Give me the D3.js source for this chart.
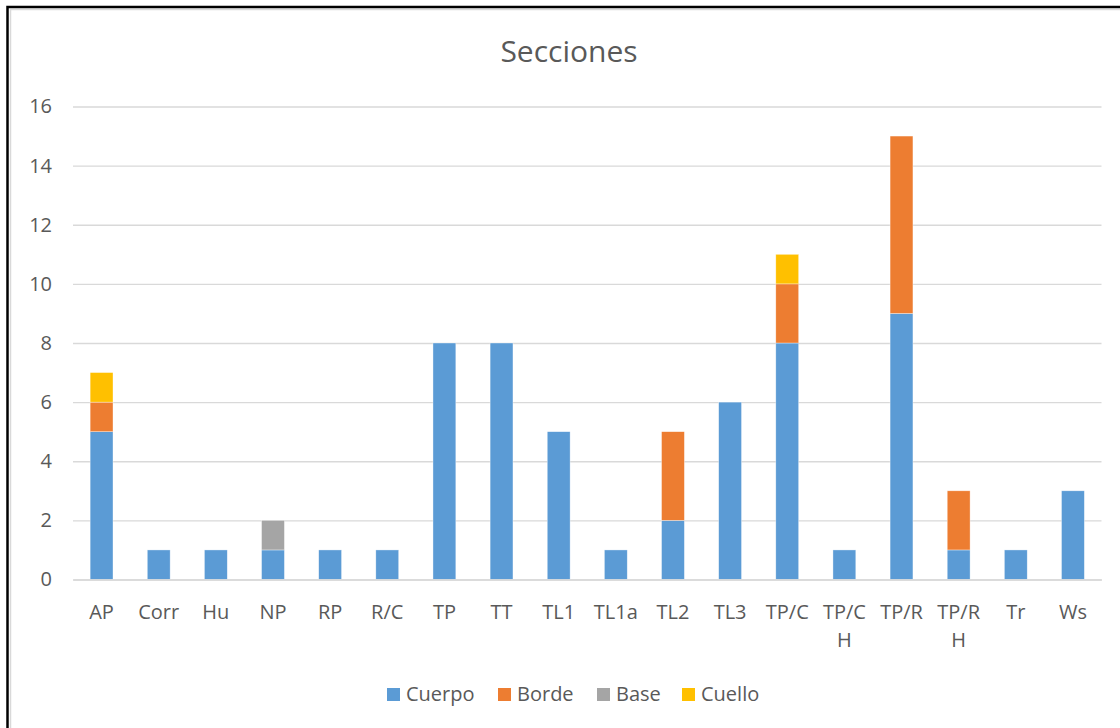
<!DOCTYPE html>
<html>
<head>
<meta charset="utf-8">
<script src="https://cdn.jsdelivr.net/npm/d3@7"></script>
<style>
  html, body { margin: 0; padding: 0; background: #fff; }
  svg { display: block; font-family: "Open Sans", "Noto Sans", sans-serif; }
</style>
</head>
<body>
<svg id="chart" width="1120" height="728"></svg>
<script>
const categories = ["AP","Corr","Hu","NP","RP","R/C","TP","TT","TL1","TL1a","TL2","TL3","TP/C","TP/C H","TP/R","TP/R H","Tr","Ws"];
const seriesNames = ["Cuerpo","Borde","Base","Cuello"];
const cuerpo = [5,1,1,1,1,1,8,8,5,1,2,6,8,1,9,1,1,3];
const borde  = [1,0,0,0,0,0,0,0,0,0,3,0,2,0,6,2,0,0];
const base   = [0,0,0,1,0,0,0,0,0,0,0,0,0,0,0,0,0,0];
const cuello = [1,0,0,0,0,0,0,0,0,0,0,0,1,0,0,0,0,0];
const yTicks = [0,2,4,6,8,10,12,14,16];
const colors = ["#5B9BD5","#ED7D31","#A5A5A5","#FFC000"];

const seriesValues = [cuerpo, borde, base, cuello];
const rows = categories.map((c, i) => {
  const r = { cat: c };
  seriesNames.forEach((s, j) => r[s] = seriesValues[j][i]);
  return r;
});

const svg = d3.select("#chart");
const textColor = "#595959";

// chart border
svg.append("rect").attr("x", 10.5).attr("y", 9.5).attr("width", 1200).attr("height", 800)
  .attr("fill", "none").attr("stroke", "#d9d9d9").attr("stroke-width", 1.5);
svg.append("rect").attr("x", 7.5).attr("y", 7).attr("width", 1200).attr("height", 800)
  .attr("fill", "none").attr("stroke", "#000").attr("stroke-width", 2.5);

const pLeft = 73, pRight = 1101.5, pTop = 106.5, pBottom = 579.5;

const x = d3.scaleBand().domain(categories).range([pLeft, pRight]).paddingInner(0.6).paddingOuter(0.3);
const y = d3.scaleLinear().domain([0, 16]).range([pBottom, pTop]);

// title
svg.append("text").attr("x", 569).attr("y", 62).attr("text-anchor", "middle")
  .attr("font-size", 30).attr("fill", textColor).text("Secciones");

// gridlines + y axis
const yAxis = d3.axisLeft(y).tickValues(yTicks).tickSize(-(pRight - pLeft)).tickPadding(21).tickFormat(d3.format("d"));
const gy = svg.append("g").attr("transform", `translate(${pLeft},0)`).call(yAxis);
gy.select(".domain").remove();
gy.selectAll(".tick line").attr("stroke", "#d9d9d9").attr("stroke-width", 1.3);
gy.selectAll(".tick text").attr("font-size", 20).attr("fill", textColor)
  .attr("font-family", "\"Open Sans\", sans-serif");

// bars
const stack = d3.stack().keys(seriesNames)(rows);
svg.append("g").selectAll("g").data(stack).join("g")
  .attr("fill", (d, i) => colors[i])
  .selectAll("rect").data(d => d.filter(p => p[1] - p[0] > 0)).join("rect")
  .attr("x", d => x(d.data.cat))
  .attr("width", x.bandwidth())
  .attr("y", d => y(d[1]))
  .attr("height", d => y(d[0]) - y(d[1]))
  .attr("stroke", "#ffffff").attr("stroke-width", 0.6).attr("stroke-opacity", 0.6);

// x axis
const xAxis = d3.axisBottom(x).tickSize(0).tickPadding(0);
const gx = svg.append("g").attr("transform", `translate(0,${pBottom})`).call(xAxis);
gx.select(".domain").attr("stroke", "#d9d9d9").attr("stroke-width", 1.3);
gx.selectAll(".tick text").each(function(d) {
  const t = d3.select(this);
  t.text(null).attr("font-size", 20).attr("fill", textColor)
    .attr("font-family", "\"Open Sans\", sans-serif").attr("dy", null).attr("y", 0);
  d.split(" ").forEach((part, k) => {
    t.append("tspan").attr("x", 0).attr("y", 39 + k * 28).text(part);
  });
});

// legend
const legendX = [387, 498, 597, 682];
const lg = svg.append("g");
seriesNames.forEach((s, i) => {
  lg.append("rect").attr("x", legendX[i]).attr("y", 688).attr("width", 13).attr("height", 13).attr("fill", colors[i]);
  lg.append("text").attr("x", legendX[i] + 19).attr("y", 701).attr("font-size", 20).attr("fill", textColor).text(s);
});
</script>
</body>
</html>
